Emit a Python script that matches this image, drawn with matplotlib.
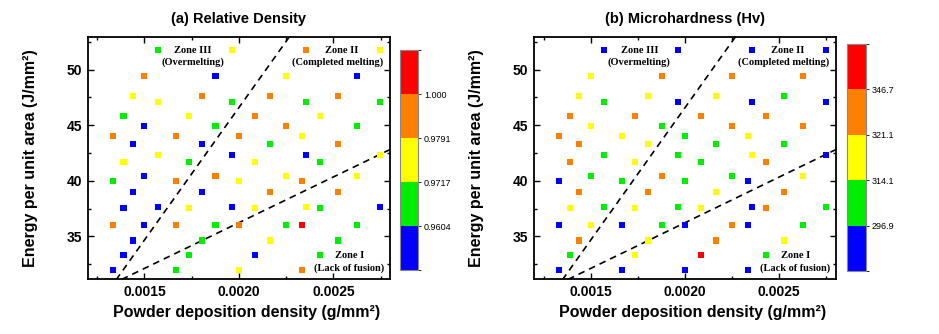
import matplotlib
matplotlib.use("Agg")
import matplotlib.pyplot as plt
from matplotlib.colors import ListedColormap, BoundaryNorm
from matplotlib.cm import ScalarMappable
from matplotlib.ticker import MultipleLocator

plt.rcParams["font.family"] = ["Liberation Sans", "DejaVu Sans"]

# Process-window samples: powder deposition density (g/mm^2) and energy per unit area (J/mm^2)
pdd = [
    0.001571, 0.001962, 0.002356, 0.002747,
    0.001571, 0.001962, 0.002356, 0.002747,
    0.001571, 0.001962, 0.002356, 0.002747,
    0.001571, 0.001962, 0.002356, 0.002747,
    0.001500, 0.001876, 0.002250, 0.002624,
    0.001500, 0.001876, 0.002250, 0.002624,
    0.001500, 0.001876, 0.002250, 0.002624,
    0.001500, 0.001876, 0.002250, 0.002624,
    0.001439, 0.001804, 0.002163, 0.002523,
    0.001439, 0.001804, 0.002163, 0.002523,
    0.001439, 0.001804, 0.002163, 0.002523,
    0.001439, 0.001804, 0.002163, 0.002523,
    0.001389, 0.001737, 0.002086, 0.002431,
    0.001389, 0.001737, 0.002086, 0.002431,
    0.001389, 0.001737, 0.002086, 0.002431,
    0.001389, 0.001737, 0.002086, 0.002431,
    0.001333, 0.001667, 0.002000, 0.002333,
    0.001333, 0.001667, 0.002000, 0.002333,
    0.001333, 0.001667, 0.002000, 0.002333,
    0.001333, 0.001667, 0.002000, 0.002333,
]
epa = [
    51.75, 51.75, 51.75, 51.75,
    47.08, 47.08, 47.08, 47.08,
    42.31, 42.31, 42.31, 42.31,
    37.64, 37.64, 37.64, 37.64,
    49.44, 49.44, 49.44, 49.44,
    44.95, 44.95, 44.95, 44.95,
    40.45, 40.45, 40.45, 40.45,
    36.02, 36.02, 36.02, 36.02,
    47.62, 47.62, 47.62, 47.62,
    43.30, 43.30, 43.30, 43.30,
    38.96, 38.96, 38.96, 38.96,
    34.64, 34.64, 34.64, 34.64,
    45.82, 45.82, 45.82, 45.82,
    41.68, 41.68, 41.68, 41.68,
    37.57, 37.57, 37.57, 37.57,
    33.35, 33.35, 33.35, 33.35,
    44.00, 44.00, 44.00, 44.00,
    40.00, 40.00, 40.00, 40.00,
    36.00, 36.00, 36.00, 36.00,
    32.00, 32.00, 32.00, 32.00,
]

# Level classes (0 = lowest band ... 4 = highest band)
rd_level = [
    1, 2, 3, 2,
    2, 1, 1, 1,
    2, 0, 0, 2,
    0, 0, 2, 0,
    3, 0, 2, 0,
    0, 1, 3, 1,
    0, 3, 2, 2,
    0, 1, 1, 1,
    2, 3, 3, 3,
    0, 0, 1, 3,
    0, 0, 3, 3,
    0, 1, 2, 1,
    1, 2, 3, 2,
    2, 1, 2, 1,
    0, 2, 2, 1,
    0, 1, 0, 1,
    3, 3, 3, 2,
    1, 3, 2, 3,
    3, 3, 3, 4,
    0, 1, 2, 3,
]
hv_level = [
    0, 0, 0, 0,
    1, 0, 0, 0,
    1, 1, 2, 0,
    1, 1, 0, 1,
    2, 3, 3, 3,
    2, 1, 3, 3,
    1, 3, 1, 2,
    2, 1, 3, 1,
    2, 2, 2, 1,
    3, 2, 1, 1,
    3, 3, 2, 3,
    3, 2, 3, 2,
    3, 3, 3, 3,
    3, 2, 1, 3,
    2, 2, 2, 3,
    1, 2, 4, 1,
    3, 2, 1, 2,
    0, 1, 1, 0,
    0, 0, 0, 0,
    0, 0, 0, 0,
]

rd_ticks = ["0.9604", "0.9717", "0.9791", "1.000"]
hv_ticks = ["296.9", "314.1", "321.1", "346.7"]

# Zone boundary lines (pdd, epa endpoints)
boundary_upper = ([0.00135, 0.00227], [31.1, 53.0])
boundary_lower = ([0.00138, 0.00280], [31.14, 42.81])

level_colors = ["#0000FF", "#00EE00", "#FFFF00", "#FF8000", "#FF0000"]
cmap = ListedColormap(level_colors)
norm = BoundaryNorm([-0.5, 0.5, 1.5, 2.5, 3.5, 4.5], cmap.N)

W, H = 939, 334
fig = plt.figure(figsize=(W / 100, H / 100), dpi=100)


def frac(x0, y0, x1, y1):
    return [x0 / W, 1 - y1 / H, (x1 - x0) / W, (y1 - y0) / H]


ax1 = fig.add_axes(frac(87.7, 36.7, 390.0, 279.3))
ax2 = fig.add_axes(frac(534.1, 36.7, 835.9, 279.3))
cax1 = fig.add_axes(frac(400.0, 50.0, 418.3, 270.0))
cax2 = fig.add_axes(frac(846.7, 44.0, 865.7, 271.0))

zone_font = dict(family=["Liberation Serif", "DejaVu Serif"], fontweight="bold",
                 fontsize=7.5, ha="center", va="center")


def draw_panel(ax, cax, levels, title, tick_labels):
    ax.scatter(pdd, epa, c=levels, cmap=cmap, norm=norm, marker="s", s=20,
               linewidths=0, zorder=3)
    ax.plot(*boundary_upper, color="black", lw=1.2, ls=(0, (4, 3)), zorder=2)
    ax.plot(*boundary_lower, color="black", lw=1.2, ls=(0, (4, 3)), zorder=2)
    ax.set_xlim(0.0012, 0.0028)
    ax.set_ylim(31.15, 52.95)
    ax.xaxis.set_major_locator(MultipleLocator(0.0005))
    ax.xaxis.set_minor_locator(MultipleLocator(0.00025))
    ax.yaxis.set_major_locator(MultipleLocator(5))
    ax.yaxis.set_minor_locator(MultipleLocator(2.5))
    ax.xaxis.set_major_formatter(plt.FuncFormatter(lambda v, p: f"{v:.4f}"))
    ax.tick_params(which="both", direction="in", top=True, right=True,
                   width=1.0)
    ax.tick_params(which="major", length=4, labelsize=10, pad=4)
    ax.tick_params(which="minor", length=2.5)
    for lab in ax.get_xticklabels() + ax.get_yticklabels():
        lab.set_fontweight("bold")
    for sp in ax.spines.values():
        sp.set_linewidth(1.3)
    ax.set_xlabel("Powder deposition density (g/mm²)", fontsize=11.5,
                  fontweight="bold")
    ax.set_ylabel("Energy per unit area (J/mm²)", fontsize=11.5,
                  fontweight="bold")
    ax.xaxis.set_label_coords(0.525, -0.105)
    ax.yaxis.set_label_coords(-0.165, 0.5)
    ax.set_title(title, fontsize=10.5, fontweight="bold", pad=10)

    ax.text(0.001758, 51.75, "Zone III", **zone_font)
    ax.text(0.001758, 50.67, "(Overmelting)", **zone_font)
    ax.text(0.002544, 51.75, "Zone II", **zone_font)
    ax.text(0.002525, 50.67, "(Completed melting)", **zone_font)
    ax.text(0.002588, 33.32, "Zone I", **zone_font)
    ax.text(0.002586, 32.12, "(Lack of fusion)", **zone_font)

    cb = fig.colorbar(ScalarMappable(norm=norm, cmap=cmap), cax=cax,
                      ticks=[0.5, 1.5, 2.5, 3.5])
    cb.set_ticklabels(tick_labels)
    cb.outline.set_edgecolor("#888888")
    cb.outline.set_linewidth(0.8)
    cax.tick_params(length=2, width=0.6, labelsize=6.5, pad=2)


draw_panel(ax1, cax1, rd_level, "(a) Relative Density", rd_ticks)
draw_panel(ax2, cax2, hv_level, "(b) Microhardness (Hv)", hv_ticks)

fig.savefig("out.png", dpi=100)
